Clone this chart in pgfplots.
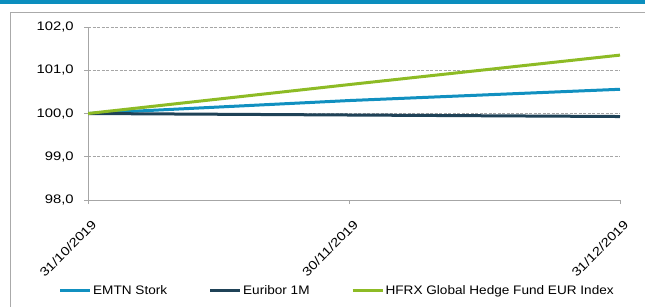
\documentclass[border=0pt]{standalone}
\usepackage{fontspec}
\setmainfont{Liberation Sans}[FakeStretch=1.1]
\newfontfamily\tickfam{Liberation Sans}[FakeStretch=1.2]
\usepackage{pgfplots}
\pgfplotsset{compat=1.18}
\definecolor{emtn}{HTML}{1190C0}
\definecolor{euribor}{HTML}{1F4257}
\definecolor{hfrx}{HTML}{8DBB25}
\definecolor{band}{HTML}{0B8EBE}
\definecolor{frame}{HTML}{AAAAAA}
\definecolor{axgray}{HTML}{A6A6A6}
\newcommand{\lbl}{\fontsize{12.4}{14}\selectfont}
\newcommand{\tlbl}{\tickfam\fontsize{12.4}{14}\selectfont}
\begin{document}
\lbl
\begin{tikzpicture}
\useasboundingbox (0,0) rectangle (645bp,307bp);
\fill[band] (0,303bp) rectangle (645bp,307bp);
\draw[frame, line width=1.3bp] (10.7bp,0) -- (10.7bp,294.5bp) -- (646bp,294.5bp);
\begin{axis}[
  at={(88bp,107bp)}, anchor=south west,
  scale only axis, width=532bp, height=173bp,
  xmin=0, xmax=61, ymin=98, ymax=102,
  axis x line*=bottom, axis y line*=left,
  axis line style={axgray, line width=0.9bp},
  xtick={0,30,61},
  xticklabels={31/10/2019,30/11/2019,31/12/2019},
  ytick={98,99,100,101,102},
  yticklabel={\pgfmathprintnumber{\tick}},
  tick pos=left,
  tick align=outside,
  major tick length=4bp,
  tick style={axgray, line width=0.9bp},
  ymajorgrids,
  grid style={axgray, dash pattern=on 3bp off 1.5bp, line width=0.8bp},
  /pgf/number format/.cd, fixed, fixed zerofill, precision=1, use comma, assume math mode=true,
  /pgfplots/.cd,
  tick label style={font=\tlbl},
  yticklabel style={font=\tlbl, xshift=-6bp},
  xticklabel style={font=\tlbl, xshift=3bp, yshift=-9bp, rotate=45, anchor=north east},
  legend columns=3,
  legend style={at={(axis description cs:-0.0555,-0.526)}, anchor=west, draw=none, fill=none, inner sep=0pt,
    nodes={inner xsep=1.5bp, inner ysep=0bp, font=\lbl},
    /tikz/every odd column/.append style={column sep=0bp},
    /tikz/every even column/.append style={column sep=40bp}},
  legend image code/.code={\draw[#1, line width=3bp] (0bp,0bp) -- (30bp,0bp);},
]
\addplot[emtn, line width=3bp] coordinates {(0,100) (30,100.30) (61,100.56)};
\addlegendentry{EMTN Stork}
\addplot[euribor, line width=3bp] coordinates {(0,100) (30,99.965) (61,99.93)};
\addlegendentry{Euribor 1M}
\addplot[hfrx, line width=3bp] coordinates {(0,100) (30,100.67) (61,101.35)};
\addlegendentry{HFRX Global Hedge Fund EUR Index}
\end{axis}
\end{tikzpicture}
\end{document}
